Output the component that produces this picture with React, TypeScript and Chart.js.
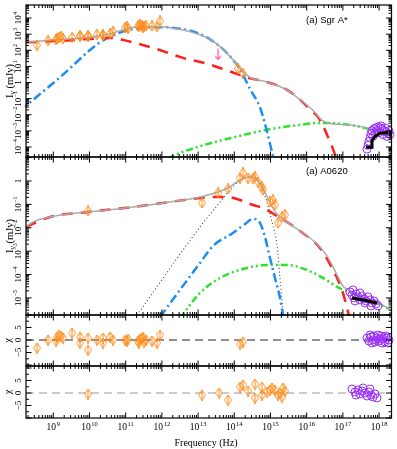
import React, { useEffect, useRef } from 'react';
import { Chart, registerables } from 'chart.js';

Chart.register(...registerables);

type P = [number, number];

// ---------- axis ranges (log10 of Hz / mJy, or chi) ----------
const X_LOG_RANGE: P = [8.246, 18.343];
const SGR_Y_LOG_RANGE: P = [-4.62, 4.81];
const A0_Y_LOG_RANGE: P = [-5.73, 1.026];
const SGR_CHI_RANGE: P = [-10.4, 10];
const A0_CHI_RANGE: P = [-10, 10.8];

// ---------- tick labels ----------
const X_TICK_EXPONENTS = [9, 10, 11, 12, 13, 14, 15, 16, 17, 18];
const SGR_Y_TICK_EXPONENTS = [4, 3, 2, 1, 0, -1, -2, -3, -4];
const A0_Y_TICK_EXPONENTS = [0, -1, -2, -3, -4, -5];
const CHI_TICK_LABELS = [5, 0, -5];
const CHI_MAJOR = [-10, -5, 0, 5, 10];
const CHI_MINOR = [-7.5, -2.5, 2.5, 7.5];
const X_TITLE = 'Frequency (Hz)';
const SGR_LABEL = '(a) Sgr A*';
const A0_LABEL = '(a) A0620';

// ---------- Sgr A* SED (log10 nu, log10 mJy) ----------
const SGR_TOTAL: P[] = [[8.246,2.494],[8.826,2.614],[9.931,2.795],[10.483,2.976],[11.036,3.337],[11.395,3.458],[11.948,3.458],[12.224,3.398],[12.777,3.157],[13.329,2.675],[13.688,2.072],[13.964,1.410],[14.158,0.867],[14.434,0.325],[14.904,0.024],[15.456,-0.458],[15.815,-1.060],[16.174,-1.723],[16.450,-2.386],[16.727,-2.566],[17.196,-2.627],[17.831,-2.928],[18.343,-3.349]];
const SGR_RED: P[] = [[8.246,2.494],[9.185,2.584],[10.014,2.705],[10.566,2.765],[10.981,2.614],[11.395,2.373],[11.865,2.072],[12.583,1.530],[13.246,1.169],[13.881,0.687],[14.434,0.265],[14.904,0.024],[15.456,-0.458],[15.815,-1.060],[16.091,-1.663],[16.312,-2.145],[16.478,-2.807],[16.616,-3.530],[16.727,-4.133],[16.865,-5.036]];
const SGR_BLUE: P[] = [[8.080,-1.753],[9.185,0.325],[10.290,2.494],[10.842,3.096],[11.118,3.277],[11.671,3.428],[12.085,3.428],[12.500,3.337],[12.914,3.127],[13.329,2.675],[13.688,2.072],[13.964,1.410],[14.158,0.837],[14.434,-0.398],[14.710,-1.542],[14.848,-2.566],[15.069,-4.554],[15.124,-5.036]];
const SGR_GREEN: P[] = [[12.169,-4.735],[12.307,-4.554],[13.053,-3.952],[13.964,-3.410],[14.904,-2.928],[15.815,-2.627],[16.367,-2.506],[17.196,-2.627],[18.025,-3.108],[18.343,-3.410]];
const SGR_XRAY_MODEL: P[] = [[17.638,-4.012],[17.804,-4.012],[17.804,-3.590],[17.887,-3.349],[17.997,-3.169],[18.135,-3.108],[18.246,-3.108]];
const SGR_RADIO_IR: P[] = [[8.550,2.313],[8.854,2.614],[9.075,2.675],[9.102,2.735],[9.157,2.795],[9.213,2.855],[9.268,2.735],[9.517,2.795],[9.738,2.916],[9.738,2.855],[9.959,2.916],[9.959,2.855],[10.207,2.976],[10.373,2.976],[10.373,2.916],[10.566,3.036],[10.649,3.157],[10.981,3.398],[11.036,3.458],[11.063,3.337],[11.340,3.518],[11.367,3.458],[11.395,3.578],[11.450,3.518],[11.478,3.398],[11.506,3.458],[11.561,3.518],[11.727,3.518],[11.865,3.458],[11.948,3.819],[14.102,0.867],[14.240,0.566]];
const SGR_UPPER_LIMIT: P[] = [[13.552,1.741]];
const SGR_XRAY: P[] = [[17.666,-4.133],[17.693,-3.892],[17.721,-3.651],[17.749,-3.410],[17.776,-3.169],[17.804,-2.988],[17.859,-2.867],[17.914,-2.807],[17.969,-2.747],[18.025,-2.807],[18.080,-2.867],[18.135,-2.988],[18.190,-3.048],[18.246,-3.169],[18.301,-3.229],[17.887,-3.169],[17.997,-3.108],[18.107,-3.229],[18.218,-3.349],[17.831,-3.349],[17.942,-2.988],[18.052,-2.687],[18.163,-2.807],[18.273,-2.988]];

// ---------- A0620 SED ----------
const A0_TOTAL: P[] = [[8.246,-1.966],[8.439,-1.752],[8.909,-1.538],[9.378,-1.410],[9.959,-1.325],[11.202,-1.111],[12.224,-0.897],[13.053,-0.684],[13.552,-0.470],[13.829,-0.299],[14.158,0.043],[14.434,0.171],[14.655,0.043],[14.848,-0.470],[14.986,-0.940],[15.180,-1.410],[15.456,-1.752],[15.815,-2.137],[16.091,-2.436],[16.367,-2.821],[16.561,-3.205],[16.727,-3.675],[16.865,-4.103],[17.003,-4.487],[17.141,-4.658],[17.334,-4.829],[17.638,-5.043],[18.025,-5.256],[18.343,-5.513]];
const A0_RED: P[] = [[8.246,-1.966],[8.909,-1.538],[9.959,-1.325],[11.202,-1.111],[12.224,-0.897],[13.053,-0.726],[13.412,-0.684],[13.801,-0.684],[14.158,-0.812],[14.517,-1.026],[14.793,-1.154],[15.180,-1.496],[15.456,-1.752],[15.815,-2.137],[16.367,-2.863],[16.699,-3.718],[16.865,-4.231],[16.975,-4.658],[17.058,-5.085],[17.141,-5.598],[17.182,-5.855]];
const A0_BLUE: P[] = [[11.948,-5.812],[13.053,-3.504],[13.412,-2.778],[13.964,-2.222],[14.296,-1.838],[14.517,-1.624],[14.627,-1.645],[14.738,-1.880],[14.848,-2.393],[14.986,-3.291],[15.124,-4.145],[15.262,-5.0],[15.359,-5.855]];
const A0_DISK: P[] = [[11.257,-5.855],[13.053,-1.966],[13.608,-0.897],[14.075,-0.085],[14.379,0.171],[14.572,0.128],[14.710,-0.171],[14.904,-0.897],[15.041,-1.752],[15.180,-2.735],[15.262,-4.145],[15.359,-5.855]];
const A0_GREEN: P[] = [[12.500,-5.855],[13.053,-4.786],[13.608,-4.145],[14.158,-3.803],[14.904,-3.590],[15.456,-3.590],[16.008,-3.803],[16.450,-4.145],[16.920,-4.594],[17.196,-4.744],[17.638,-5.064],[18.025,-5.278],[18.343,-5.534]];
const A0_XRAY_MODEL: P[] = [[17.251,-5.0],[17.472,-5.064],[17.693,-5.128],[17.942,-5.214]];
const A0_RADIO_OPT: P[] = [[9.959,-1.282],[13.108,-0.940],[13.552,-0.513],[13.829,-0.342],[14.158,0.128],[14.240,0.342],[14.379,0.128],[14.517,0.128],[14.572,0.171],[14.655,-0.043],[14.765,-0.256],[14.793,-0.385],[14.986,-0.897],[15.069,-0.812],[15.124,-1.026],[15.207,-1.795],[15.318,-1.538],[15.401,-1.453]];
const A0_XRAY: P[] = [[17.196,-4.744],[17.251,-4.872],[17.279,-4.658],[17.306,-5.0],[17.334,-5.128],[17.362,-4.829],[17.417,-4.957],[17.472,-5.085],[17.472,-4.786],[17.527,-4.915],[17.583,-5.043],[17.610,-5.214],[17.638,-5.128],[17.693,-4.957],[17.749,-5.085],[17.776,-5.342],[17.804,-5.214],[17.859,-5.128],[17.914,-5.256],[17.969,-5.342]];

// ---------- residuals (log10 nu, chi) ----------
const SGR_CHI_ZERO: P[] = [[8.246,0],[18.343,0]];
const SGR_CHI_RADIO: P[] = [[8.550,-3.2],[8.854,0],[9.075,-0.4],[9.102,1.2],[9.157,2.0],[9.213,1.6],[9.268,0.8],[9.517,2.8],[9.738,1.2],[9.738,-1.2],[9.959,0.8],[9.959,-4.0],[10.207,0],[10.373,0.8],[10.373,-1.2],[10.566,1.2],[10.649,0],[10.981,0],[11.036,-0.4],[11.063,0.4],[11.340,-0.4],[11.367,-1.2],[11.395,0.4],[11.450,0.8],[11.478,1.2],[11.506,-0.8],[11.561,0],[11.727,-0.4],[11.865,-1.2],[11.948,2.0],[14.158,-1.6],[14.240,-0.8]];
const SGR_CHI_XRAY: P[] = [[17.666,0.8],[17.721,-0.4],[17.776,1.2],[17.831,0],[17.887,-0.8],[17.942,0.8],[17.997,-0.4],[18.052,1.6],[18.107,0.4],[18.163,-0.8],[18.218,0.8],[18.273,0],[17.749,2.0],[17.859,1.6],[17.969,2.0],[18.080,-1.2],[18.190,1.6],[18.246,-1.2],[17.804,-1.2],[17.914,0],[18.025,0.4],[18.135,1.2]];
const A0_CHI_ZERO: P[] = [[8.246,0],[18.343,0]];
const A0_CHI_RADIO: P[] = [[9.959,-0.4],[13.108,-0.8],[13.580,0],[13.829,-2.8],[14.158,2.4],[14.240,3.2],[14.379,0.8],[14.572,3.6],[14.572,-2.0],[14.765,2.4],[14.765,-0.8],[14.904,0.4],[14.986,1.2],[15.041,2.0],[15.124,1.2],[15.262,0],[15.318,-1.6],[15.345,2.0],[15.401,0.8],[15.207,-0.8]];
const A0_CHI_XRAY: P[] = [[17.251,1.6],[17.334,0.4],[17.417,1.2],[17.472,-0.4],[17.527,0.8],[17.610,0],[17.666,-1.2],[17.721,0.4],[17.776,-0.8],[17.831,-1.6],[17.887,-0.4],[17.942,-2.0],[17.362,-0.8],[17.555,2.0],[17.749,1.6]];

// ---------- layout & style ----------
const W = 397;
const H = 449;
const PLOT_LEFT = 26;
const PLOT_RIGHT = 391.5;
const PANEL_BOUNDS: P[] = [[1.5, 157], [157, 315], [315, 366], [366, 418]];

const GRAY = '#ababab';
const RED = '#ff1f1f';
const BLUE = '#1e8cf0';
const GREEN = '#2ee02e';
const ORANGE = '#ff8c1a';
const PURPLE = '#9a30f5';
const PINK = '#ff3d9a';
const SERIF = '"Liberation Serif", "DejaVu Serif", serif';
const SANS = '"Liberation Sans", Arial, sans-serif';

const toXY = (pts: P[]) => pts.map(([lx, ly]) => ({ x: Math.pow(10, lx), y: Math.pow(10, ly) }));
const toXChi = (pts: P[]) => pts.map(([lx, c]) => ({ x: Math.pow(10, lx), y: c }));

function makeDiamond(): HTMLCanvasElement {
  const c = document.createElement('canvas');
  c.width = 8; c.height = 11;
  const g = c.getContext('2d')!;
  g.strokeStyle = ORANGE; g.lineWidth = 1;
  g.beginPath();
  g.moveTo(4, 0.5); g.lineTo(7.5, 5.5); g.lineTo(4, 10.5); g.lineTo(0.5, 5.5); g.closePath();
  g.stroke();
  g.beginPath(); g.moveTo(4, 0); g.lineTo(4, 11); g.stroke();
  return c;
}

function makeArrow(): HTMLCanvasElement {
  const c = document.createElement('canvas');
  c.width = 8; c.height = 12;
  const g = c.getContext('2d')!;
  g.strokeStyle = PINK; g.lineWidth = 1.1;
  g.beginPath();
  g.moveTo(4, 0.5); g.lineTo(4, 11);
  g.moveTo(1, 7.5); g.lineTo(4, 11); g.lineTo(7, 7.5);
  g.stroke();
  return c;
}

const curve = (data: any[], color: string, width: number, dash: number[], order: number, smooth = true) => ({
  data, showLine: true, borderColor: color, borderWidth: width, borderDash: dash,
  pointRadius: 0, fill: false, order, clip: 1,
  cubicInterpolationMode: smooth ? 'monotone' : 'default', tension: 0,
});

const marks = (data: any[], style: any, color: string, order: number, radius = 4) => ({
  data, showLine: false, pointStyle: style, pointRadius: radius, pointBorderWidth: 1,
  pointBorderColor: color, pointBackgroundColor: 'rgba(0,0,0,0)', borderColor: color,
  backgroundColor: 'rgba(0,0,0,0)', order, clip: false,
});

function drawPow(ctx: CanvasRenderingContext2D, base: string, exp: string, cx: number, cy: number, rotated: boolean, bs: number, es: number) {
  ctx.font = `${bs}px ${SERIF}`;
  const wb = ctx.measureText(base).width;
  ctx.font = `${es}px ${SERIF}`;
  const we = exp ? ctx.measureText(exp).width + 0.6 : 0;
  const total = wb + we;
  ctx.save();
  ctx.translate(cx, cy);
  if (rotated) ctx.rotate(-Math.PI / 2);
  ctx.textAlign = 'left';
  ctx.textBaseline = 'alphabetic';
  const by = bs * 0.34;
  ctx.font = `${bs}px ${SERIF}`;
  ctx.fillText(base, -total / 2, by);
  if (exp) {
    ctx.font = `${es}px ${SERIF}`;
    ctx.fillText(exp, -total / 2 + wb + 0.6, by - bs * 0.42);
  }
  ctx.restore();
}

function drawIntensityTitle(ctx: CanvasRenderingContext2D, cx: number, cy: number) {
  const bs = 10.5, ss = 7.5;
  ctx.font = `${bs}px ${SERIF}`;
  const wI = ctx.measureText('I').width;
  const wRest = ctx.measureText(' (mJy)').width;
  ctx.font = `${ss}px ${SERIF}`;
  const wNu = ctx.measureText('ν').width;
  const total = wI + wNu + wRest;
  ctx.save();
  ctx.translate(cx, cy);
  ctx.rotate(-Math.PI / 2);
  ctx.textAlign = 'left';
  ctx.textBaseline = 'alphabetic';
  const by = bs * 0.34;
  let x0 = -total / 2;
  ctx.font = `${bs}px ${SERIF}`;
  ctx.fillText('I', x0, by); x0 += wI;
  ctx.font = `${ss}px ${SERIF}`;
  ctx.fillText('ν', x0, by + 2.5); x0 += wNu;
  ctx.font = `${bs}px ${SERIF}`;
  ctx.fillText(' (mJy)', x0, by);
  ctx.restore();
}

type PanelKind = 'sgr' | 'a0' | 'sgrChi' | 'a0Chi';
const PANEL_KINDS: PanelKind[] = ['sgr', 'a0', 'sgrChi', 'a0Chi'];

function axesPlugin(kind: PanelKind) {
  return {
    id: 'axes-' + kind,
    afterDraw(chart: any) {
      const { ctx, chartArea: a } = chart;
      const xs = chart.scales.x;
      const ys = chart.scales.y;
      ctx.save();
      ctx.strokeStyle = '#000';
      ctx.fillStyle = '#000';
      ctx.lineWidth = 1;
      const seg = (x1: number, y1: number, x2: number, y2: number) => {
        ctx.beginPath(); ctx.moveTo(x1, y1); ctx.lineTo(x2, y2); ctx.stroke();
      };
      // x ticks (inward, top & bottom)
      for (let e = 8; e <= 18; e++) {
        for (let k = 1; k <= 9; k++) {
          const v = k * Math.pow(10, e);
          if (v < xs.min || v > xs.max) continue;
          const px = xs.getPixelForValue(v);
          const len = k === 1 ? 5.5 : 3;
          seg(px, a.top, px, a.top + len);
          seg(px, a.bottom, px, a.bottom - len);
        }
      }
      // y ticks
      const yTick = (v: number, len: number) => {
        const py = ys.getPixelForValue(v);
        seg(a.left, py, a.left + len, py);
        seg(a.right, py, a.right - len, py);
      };
      if (kind === 'sgr' || kind === 'a0') {
        for (let e = -7; e <= 5; e++) {
          for (let k = 1; k <= 9; k++) {
            const v = k * Math.pow(10, e);
            if (v < ys.min || v > ys.max) continue;
            yTick(v, k === 1 ? 5.5 : 3);
          }
        }
      } else {
        CHI_MAJOR.forEach((v) => { if (v >= ys.min && v <= ys.max) yTick(v, 5.5); });
        CHI_MINOR.forEach((v) => yTick(v, 3));
      }
      // frame
      ctx.lineWidth = 1.2;
      ctx.strokeRect(a.left, a.top, a.right - a.left, a.bottom - a.top);

      // y tick labels
      const LABEL_X = 18;
      if (kind === 'sgr' || kind === 'a0') {
        const exps = kind === 'sgr' ? SGR_Y_TICK_EXPONENTS : A0_Y_TICK_EXPONENTS;
        exps.forEach((e) => {
          const py = ys.getPixelForValue(Math.pow(10, e));
          if (e === 0) drawPow(ctx, '1', '', LABEL_X, py, true, 9, 6);
          else drawPow(ctx, '10', e < 0 ? '−' + Math.abs(e) : String(e), LABEL_X, py, true, 9, 6);
        });
        drawIntensityTitle(ctx, 9, (a.top + a.bottom) / 2);
        ctx.font = `9.5px ${SANS}`;
        ctx.textAlign = 'left';
        ctx.textBaseline = 'alphabetic';
        ctx.fillText(kind === 'sgr' ? SGR_LABEL : A0_LABEL, 306, a.top + (kind === 'sgr' ? 18 : 16.5));
      } else {
        CHI_TICK_LABELS.forEach((v) => {
          const py = ys.getPixelForValue(v);
          drawPow(ctx, v < 0 ? '−' + Math.abs(v) : String(v), '', LABEL_X, py, true, 9, 6);
        });
        ctx.save();
        ctx.translate(8, (a.top + a.bottom) / 2);
        ctx.rotate(-Math.PI / 2);
        ctx.font = `10.5px ${SERIF}`;
        ctx.textAlign = 'center';
        ctx.textBaseline = 'middle';
        ctx.fillText('χ', 0, 0);
        ctx.restore();
      }
      // x tick labels and title on the bottom panel
      if (kind === 'a0Chi') {
        X_TICK_EXPONENTS.forEach((e) => {
          const px = xs.getPixelForValue(Math.pow(10, e));
          drawPow(ctx, '10', String(e), px, 426.5, false, 9.5, 6.5);
        });
        ctx.font = `10px ${SERIF}`;
        ctx.textAlign = 'center';
        ctx.textBaseline = 'alphabetic';
        ctx.fillText(X_TITLE, 206, 445.5);
      }
      ctx.restore();
    },
  };
}

function buildConfig(kind: PanelKind, idx: number, diamond: HTMLCanvasElement, arrow: HTMLCanvasElement): any {
  const [top, bottom] = PANEL_BOUNDS[idx];
  let datasets: any[] = [];
  let yScale: any;
  if (kind === 'sgr') {
    datasets = [
      curve(toXY(SGR_XRAY_MODEL), '#000', 3, [], 0, false),
      marks(toXY(SGR_RADIO_IR), diamond, ORANGE, 1),
      marks(toXY(SGR_UPPER_LIMIT), arrow, PINK, 1),
      marks(toXY(SGR_XRAY), 'circle', PURPLE, 1),
      curve(toXY(SGR_TOTAL), GRAY, 1.5, [], 2),
      curve(toXY(SGR_RED), RED, 2.5, [11, 8], 3),
      curve(toXY(SGR_BLUE), BLUE, 2.5, [9, 3.5, 2, 3.5], 3),
      curve(toXY(SGR_GREEN), GREEN, 2.5, [7, 3, 2, 3, 2, 3], 3),
    ];
    yScale = { type: 'logarithmic', min: Math.pow(10, SGR_Y_LOG_RANGE[0]), max: Math.pow(10, SGR_Y_LOG_RANGE[1]), display: false };
  } else if (kind === 'a0') {
    datasets = [
      curve(toXY(A0_XRAY_MODEL), '#000', 3, [], 0, false),
      marks(toXY(A0_RADIO_OPT), diamond, ORANGE, 1),
      marks(toXY(A0_XRAY), 'circle', PURPLE, 1),
      curve(toXY(A0_TOTAL), GRAY, 1.5, [], 2),
      curve(toXY(A0_RED), RED, 2.5, [11, 8], 3),
      curve(toXY(A0_BLUE), BLUE, 2.5, [9, 3.5, 2, 3.5], 3),
      curve(toXY(A0_DISK), '#444', 1.1, [1, 2.5], 3),
      curve(toXY(A0_GREEN), GREEN, 2.5, [7, 3, 2, 3, 2, 3], 3),
    ];
    yScale = { type: 'logarithmic', min: Math.pow(10, A0_Y_LOG_RANGE[0]), max: Math.pow(10, A0_Y_LOG_RANGE[1]), display: false };
  } else if (kind === 'sgrChi') {
    datasets = [
      marks(toXChi(SGR_CHI_RADIO), diamond, ORANGE, 1),
      marks(toXChi(SGR_CHI_XRAY), 'circle', PURPLE, 1),
      curve(toXChi(SGR_CHI_ZERO), '#222', 1, [8, 5], 5, false),
    ];
    yScale = { type: 'linear', min: SGR_CHI_RANGE[0], max: SGR_CHI_RANGE[1], display: false };
  } else {
    datasets = [
      marks(toXChi(A0_CHI_RADIO), diamond, ORANGE, 1),
      marks(toXChi(A0_CHI_XRAY), 'circle', PURPLE, 1),
      curve(toXChi(A0_CHI_ZERO), '#999', 1.2, [8, 5], 5, false),
    ];
    yScale = { type: 'linear', min: A0_CHI_RANGE[0], max: A0_CHI_RANGE[1], display: false };
  }
  return {
    type: 'scatter',
    data: { datasets },
    options: {
      animation: false,
      responsive: false,
      devicePixelRatio: 1,
      events: [],
      layout: { padding: { left: PLOT_LEFT, right: W - PLOT_RIGHT, top, bottom: H - bottom } },
      plugins: { legend: { display: false }, tooltip: { enabled: false } },
      scales: {
        x: { type: 'logarithmic', min: Math.pow(10, X_LOG_RANGE[0]), max: Math.pow(10, X_LOG_RANGE[1]), display: false },
        y: yScale,
      },
    },
    plugins: [axesPlugin(kind)],
  };
}

export default function App() {
  const refs = useRef<(HTMLCanvasElement | null)[]>([]);
  useEffect(() => {
    const diamond = makeDiamond();
    const arrow = makeArrow();
    const charts = PANEL_KINDS.map((k, i) => new Chart(refs.current[i]!, buildConfig(k, i, diamond, arrow)));
    return () => charts.forEach((c) => c.destroy());
  }, []);
  return (
    <div style={{ position: 'fixed', left: 0, top: 0, width: W, height: H, background: '#fff', overflow: 'hidden' }}>
      {PANEL_KINDS.map((k, i) => (
        <canvas
          key={k}
          ref={(el) => { refs.current[i] = el; }}
          width={W}
          height={H}
          style={{ position: 'absolute', left: 0, top: 0, width: W, height: H }}
        />
      ))}
    </div>
  );
}
